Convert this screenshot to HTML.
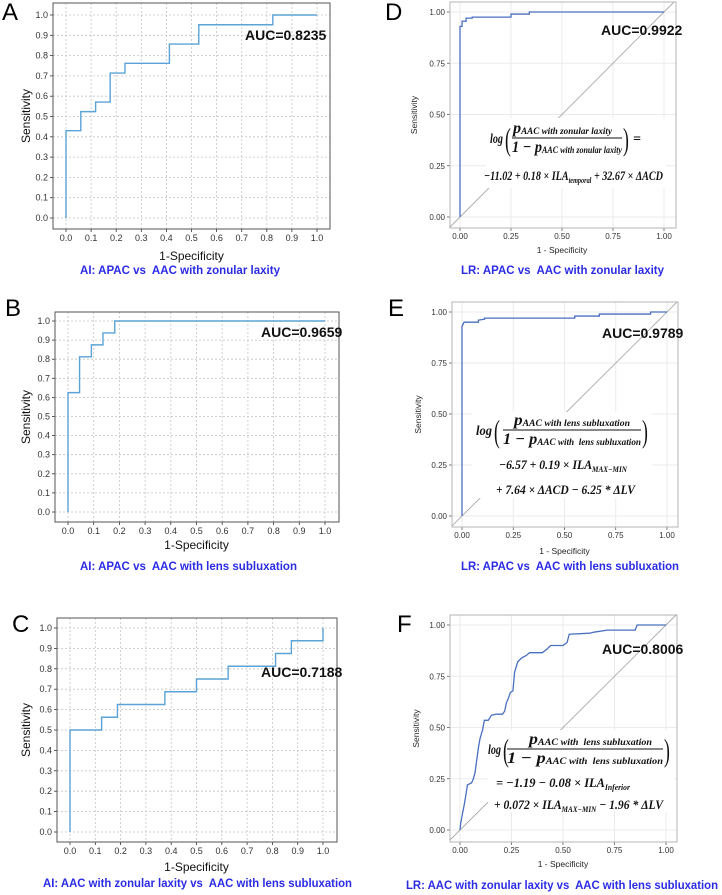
<!DOCTYPE html>
<html><head><meta charset="utf-8">
<style>
html,body{margin:0;padding:0;background:#fff;}
svg{display:block;font-family:"Liberation Sans",Arial,sans-serif;}
svg text{white-space:pre;}
.f{font-family:"Liberation Serif",serif;font-weight:bold;font-style:italic;fill:#111;}
.p{font-family:"Liberation Serif",serif;fill:#111;}
</style></head>
<body>
<svg id="fig" width="722" height="895" viewBox="0 0 722 895" xmlns="http://www.w3.org/2000/svg"></svg>
<script>
// ---- data ----
const fprA=[0,0,0.059,0.059,0.118,0.118,0.176,0.176,0.235,0.235,0.412,0.412,0.529,0.529,0.824,0.824,1];
const tprA=[0,0.43,0.43,0.524,0.524,0.571,0.571,0.714,0.714,0.762,0.762,0.857,0.857,0.952,0.952,1,1];
const fprB=[0,0,0.045,0.045,0.091,0.091,0.136,0.136,0.182,0.182,1];
const tprB=[0,0.625,0.625,0.8125,0.8125,0.875,0.875,0.9375,0.9375,1,1];
const fprC=[0,0,0.125,0.125,0.1875,0.1875,0.375,0.375,0.5,0.5,0.625,0.625,0.8125,0.8125,0.875,0.875,1,1];
const tprC=[0,0.5,0.5,0.5625,0.5625,0.625,0.625,0.6875,0.6875,0.75,0.75,0.8125,0.8125,0.875,0.875,0.9375,0.9375,1];
const fprD=[0,0,0.01,0.01,0.03,0.03,0.06,0.06,0.25,0.25,0.34,0.34,1];
const tprD=[0,0.93,0.93,0.955,0.955,0.97,0.97,0.975,0.975,0.99,0.99,1,1];
const fprE=[0,0,0.01,0.08,0.08,0.11,0.11,0.55,0.55,0.67,0.67,0.92,0.92,1];
const tprE=[0,0.93,0.95,0.95,0.96,0.965,0.97,0.97,0.98,0.98,0.99,0.99,1,1];
const fprF=[0,0.003,0.011,0.02,0.03,0.036,0.056,0.065,0.073,0.081,0.09,0.097,0.11,0.118,0.137,0.153,0.177,0.206,0.217,0.225,0.236,0.244,0.257,0.265,0.28,0.3,0.32,0.338,0.4,0.425,0.44,0.5,0.52,0.53,0.63,0.65,0.715,0.85,0.86,1];
const tprF=[0,0.03,0.075,0.12,0.18,0.22,0.23,0.25,0.28,0.34,0.405,0.445,0.49,0.535,0.535,0.56,0.565,0.565,0.58,0.62,0.645,0.67,0.68,0.77,0.82,0.84,0.85,0.865,0.865,0.885,0.9,0.9,0.915,0.955,0.96,0.965,0.975,0.975,1,1];
const aucLabels=["AUC=0.8235","AUC=0.9659","AUC=0.7188","AUC=0.9922","AUC=0.9789","AUC=0.8006"];
const mplTicks=[0,0.1,0.2,0.3,0.4,0.5,0.6,0.7,0.8,0.9,1.0];
const ggTicks=[0,0.25,0.5,0.75,1.0];

const NS="http://www.w3.org/2000/svg";
const svg=document.getElementById('fig');
function mk(tag,attrs,parent,text){
  const e=document.createElementNS(NS,tag);
  for(const k in attrs) e.setAttribute(k,attrs[k]);
  if(text!==undefined) e.textContent=text;
  (parent||svg).appendChild(e);return e;
}
function linScale(d0,d1,r0,r1){return v=>r0+(v-d0)/(d1-d0)*(r1-r0);}
function curvePath(fpr,tpr,sx,sy){
  let d="";for(let i=0;i<fpr.length;i++){d+=(i?"L":"M")+sx(fpr[i]).toFixed(2)+","+sy(tpr[i]).toFixed(2);}return d;
}
function caption(g,p){
  const cap=mk('text',{x:p.capL,y:p.capY,'font-size':12,'font-weight':'bold',fill:'#2b2be6',textLength:p.capR-p.capL,lengthAdjust:'spacingAndGlyphs'},g,p.cap);
  
}

function mplPanel(p){
  const g=mk('g',{});
  
  
  const sx=linScale(0,1,p.x0,p.x1), sy=linScale(0,1,p.y0,p.y1);
  mplTicks.forEach(t=>{
    const gx=mk('line',{x1:sx(t),x2:sx(t),y1:p.top,y2:p.bot,stroke:'#c4c4c4','stroke-width':0.8,'stroke-dasharray':'2,2'},g);
    
    const gy=mk('line',{x1:p.left,x2:p.right,y1:sy(t),y2:sy(t),stroke:'#c4c4c4','stroke-width':0.8,'stroke-dasharray':'2,2'},g);
    
    mk('line',{x1:sx(t),x2:sx(t),y1:p.bot,y2:p.bot+3,stroke:'#333','stroke-width':0.8},g);
    mk('line',{x1:p.left-3,x2:p.left,y1:sy(t),y2:sy(t),stroke:'#333','stroke-width':0.8},g);
    const xl=mk('text',{x:sx(t),y:p.bot+12,'font-size':9,fill:'#333','text-anchor':'middle'},g,t.toFixed(1));
    
    const yl=mk('text',{x:p.left-5,y:sy(t)+3,'font-size':9,fill:'#333','text-anchor':'end'},g,t.toFixed(1));
    
  });
  const fr=mk('rect',{x:p.left,y:p.top,width:p.right-p.left,height:p.bot-p.top,fill:'none',stroke:'#555','stroke-width':1},g);
  
  const c=mk('path',{d:curvePath(p.fpr,p.tpr,sx,sy),fill:'none',stroke:'#5ba3d6','stroke-width':1.4},g);
  
  const a=mk('text',{x:p.aucX,y:p.aucY,'font-size':14,'font-weight':'bold',fill:'#111'},g,p.auc);
  
  const xt=mk('text',{x:(p.x0+p.x1)/2,y:p.xtY,'font-size':12,fill:'#111','text-anchor':'middle'},g,'1-Specificity');
  
  const yt=mk('text',{x:0,y:0,'font-size':12,fill:'#111','text-anchor':'middle',transform:`translate(${p.ytX},${(p.top+p.bot)/2}) rotate(-90)`},g,'Sensitivity');
  
  caption(g,p);
  const L=mk('text',{x:p.letX,y:p.letY,'font-size':24,fill:'#000'},g,p.id);
  
  return g;
}

function ggPanel(p){
  const g=mk('g',{});
  
  
  const sx=linScale(0,1,p.x0,p.x1), sy=linScale(0,1,p.y0,p.y1);
  ggTicks.forEach(t=>{
    const gx=mk('line',{x1:sx(t),x2:sx(t),y1:p.top,y2:p.bot,stroke:'#ebebeb','stroke-width':1},g);
    
    const gy=mk('line',{x1:p.left,x2:p.right,y1:sy(t),y2:sy(t),stroke:'#ebebeb','stroke-width':1},g);
    
    mk('line',{x1:sx(t),x2:sx(t),y1:p.bot,y2:p.bot+3,stroke:'#444','stroke-width':0.7},g);
    mk('line',{x1:p.left-3,x2:p.left,y1:sy(t),y2:sy(t),stroke:'#444','stroke-width':0.7},g);
    const xl=mk('text',{x:sx(t),y:p.bot+11,'font-size':8,fill:'#333','text-anchor':'middle'},g,t.toFixed(2));
    
    const yl=mk('text',{x:p.left-5,y:sy(t)+3,'font-size':8,fill:'#333','text-anchor':'end'},g,t.toFixed(2));
    
  });
  const fr=mk('rect',{x:p.left,y:p.top,width:p.right-p.left,height:p.bot-p.top,fill:'none',stroke:'#b5b5b5','stroke-width':1},g);
  
  const dg=mk('line',{x1:sx(-0.05),y1:sy(-0.05),x2:sx(1.05),y2:sy(1.05),stroke:'#aaa','stroke-width':0.9},g);
  
  const c=mk('path',{d:curvePath(p.fpr,p.tpr,sx,sy),fill:'none',stroke:'#4a6fc0','stroke-width':1.3},g);
  
  const a=mk('text',{x:p.aucX,y:p.aucY,'font-size':14,'font-weight':'bold',fill:'#111'},g,p.auc);
  
  const xt=mk('text',{x:(p.x0+p.x1)/2,y:p.xtY,'font-size':8.5,fill:'#222','text-anchor':'middle'},g,'1 - Specificity');
  
  const yt=mk('text',{x:0,y:0,'font-size':8.5,fill:'#222','text-anchor':'middle',transform:`translate(${p.ytX},${(p.top+p.bot)/2}) rotate(-90)`},g,'Sensitivity');
  
  caption(g,p);
  const L=mk('text',{x:p.letX,y:p.letY,'font-size':24,fill:'#000'},g,p.id);
  
  return g;
}

mplPanel({id:'A',left:53,right:330,top:3,bot:229,x0:66,x1:317,y0:218,y1:15,fpr:fprA,tpr:tprA,auc:aucLabels[0],aucX:245,aucY:40,xtY:260,ytX:30,capL:80,capR:280,capY:274,cap:'AI: APAC vs  AAC with zonular laxity',letX:2,letY:20});
mplPanel({id:'B',left:55,right:339,top:312,bot:522,x0:68,x1:325,y0:512,y1:321,fpr:fprB,tpr:tprB,auc:aucLabels[1],aucX:261,aucY:337,xtY:549,ytX:30,capL:80,capR:297,capY:570,cap:'AI: APAC vs  AAC with lens subluxation',letX:5,letY:316});
mplPanel({id:'C',left:57,right:337,top:618,bot:842,x0:70,x1:323,y0:832,y1:628,fpr:fprC,tpr:tprC,auc:aucLabels[2],aucX:261,aucY:677,xtY:871,ytX:30,capL:43,capR:352,capY:887,cap:'AI: AAC with zonular laxity vs  AAC with lens subluxation',letX:12,letY:632});
ggPanel({id:'D',left:450,right:676,top:2,bot:228,x0:460,x1:664,y0:217,y1:12,fpr:fprD,tpr:tprD,auc:aucLabels[3],aucX:601,aucY:35,xtY:253,ytX:417,capL:461,capR:664,capY:274,cap:'LR: APAC vs  AAC with zonular laxity',letX:385,letY:20});
ggPanel({id:'E',left:452,right:678,top:302,bot:527,x0:462,x1:667,y0:516,y1:312,fpr:fprE,tpr:tprE,auc:aucLabels[4],aucX:602,aucY:338,xtY:554,ytX:421,capL:461,capR:679,capY:570,cap:'LR: APAC vs  AAC with lens subluxation',letX:388,letY:316});
ggPanel({id:'F',left:450,right:677,top:615,bot:842,x0:460,x1:666,y0:830,y1:625,fpr:fprF,tpr:tprF,auc:aucLabels[5],aucX:602,aucY:654,xtY:867,ytX:419,capL:406,capR:718,capY:889,cap:'LR: AAC with zonular laxity vs  AAC with lens subluxation',letX:397,letY:632});

function paren(g,x,y,ch){
  mk('text',{x:x,y:y,'font-size':32,class:'p',transform:`translate(${x},${y}) scale(0.55,1) translate(${-x},${-y})`},g,ch);
}
function formula(o){
  const g=mk('g',{});
  
  
  mk('rect',{x:o.bx,y:o.by,width:o.bw,height:o.bh,fill:'#fff'},g);
  mk('text',{x:o.x,y:o.ly+3,'font-size':14,class:'f',textLength:o.px-o.x-2,lengthAdjust:'spacingAndGlyphs'},g,'log');
  paren(g,o.px,o.ly+10,'(');
  const num=mk('text',{x:o.numX,y:o.ly-7,'font-size':16,class:'f',textLength:o.numEnd-o.numX,lengthAdjust:'spacingAndGlyphs'},g,'p');
  mk('tspan',{'font-size':9,dy:1},num,o.sub1);
  const den=mk('text',{x:o.denX,y:o.ly+12,'font-size':16,class:'f',textLength:o.denEnd-o.denX,lengthAdjust:'spacingAndGlyphs'},g,'1 − p');
  mk('tspan',{'font-size':9,dy:1},den,o.sub2);
  mk('line',{x1:o.denX,x2:o.denEnd,y1:o.ly-2,y2:o.ly-2,stroke:'#111','stroke-width':1},g);
  paren(g,o.denEnd+1,o.ly+10,')');
  if(o.eq) mk('text',{x:o.denEnd+11,y:o.ly+3,'font-size':14,class:'f','font-style':'normal'},g,'=');
  o.lines.forEach(l=>{
    const t=mk('text',{x:l.x,y:l.y,'font-size':13,class:'f',textLength:l.end-l.x,lengthAdjust:'spacingAndGlyphs'},g);
    l.parts.forEach(pt=>{
      mk('tspan',pt.sub?{'font-size':8,dy:3}:{'font-size':13,dy:pt.back?-3:0},t,pt.t);
    });
  });
}
formula({id:'D',bx:486,by:118,bw:180,bh:70,x:490,px:505,ly:140,numX:513,numEnd:612,denX:512,denEnd:622,eq:true,sub1:'AAC with zonular laxity',sub2:'AAC with zonular laxity',
  lines:[{x:484,end:663,y:180,parts:[{t:'−11.02 + 0.18 × ILA'},{t:'temporal',sub:true},{t:' + 32.67 × ΔACD',back:true}]}]});
formula({id:'E',bx:472,by:412,bw:180,bh:86,x:476,px:494,ly:432,numX:514,numEnd:630,denX:503,denEnd:641,eq:false,sub1:'AAC with lens subluxation',sub2:'AAC with  lens subluxation',
  lines:[{x:499,end:627,y:469,parts:[{t:'−6.57 + 0.19 × ILA'},{t:'MAX−MIN',sub:true}]},{x:496,end:635,y:494,parts:[{t:'+ 7.64 × ΔACD − 6.25 * ΔLV'}]}]});
formula({id:'F',bx:488,by:730,bw:186,bh:82,x:488,px:503,ly:751,numX:529,numEnd:652,denX:507,denEnd:663,eq:false,sub1:'AAC with  lens subluxation',sub2:'AAC with  lens subluxation',
  lines:[{x:496,end:630,y:787,parts:[{t:'= −1.19 − 0.08 × ILA'},{t:'Inferior',sub:true}]},{x:494,end:663,y:809,parts:[{t:'+ 0.072 × ILA'},{t:'MAX−MIN',sub:true},{t:' − 1.96 * ΔLV',back:true}]}]});
</script>
</body></html>
